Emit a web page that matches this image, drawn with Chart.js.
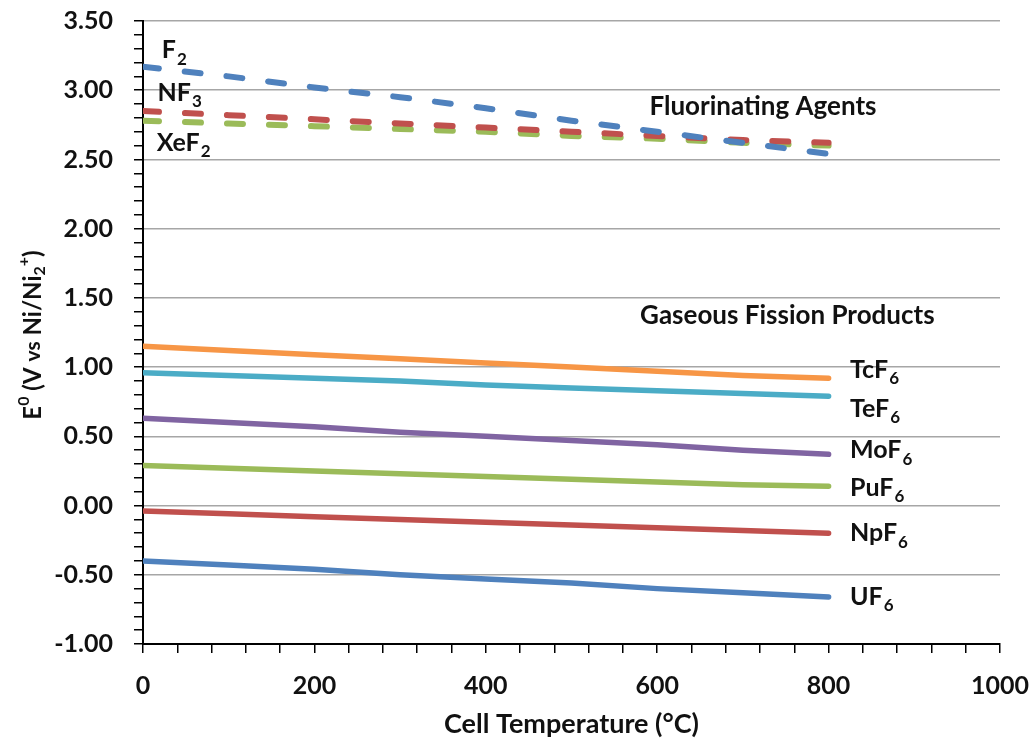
<!DOCTYPE html>
<html>
<head>
<meta charset="utf-8">
<script src="https://cdn.jsdelivr.net/npm/chart.js@4"></script>
<style>
  html, body { margin: 0; padding: 0; background: #fff; }
  #wrap { width: 1033px; height: 744px; }
</style>
</head>
<body>
<div id="wrap"><canvas id="chart" width="1033" height="744"></canvas></div>
<script>
// temperatures (°C)
const temps = [0, 100, 200, 300, 400, 500, 600, 700, 800];

// fluorinating agents (dashed)
const f2   = [3.17, 3.10, 3.02, 2.95, 2.87, 2.78, 2.70, 2.62, 2.54];
const nf3  = [2.85, 2.82, 2.79, 2.76, 2.73, 2.70, 2.67, 2.64, 2.62];
const xef2 = [2.78, 2.76, 2.74, 2.72, 2.70, 2.67, 2.65, 2.62, 2.60];

// gaseous fission products (solid)
const tcf6 = [1.15, 1.12, 1.09, 1.06, 1.03, 1.00, 0.97, 0.94, 0.92];
const tef6 = [0.96, 0.94, 0.92, 0.90, 0.87, 0.85, 0.83, 0.81, 0.79];
const mof6 = [0.63, 0.60, 0.57, 0.53, 0.50, 0.47, 0.44, 0.40, 0.37];
const puf6 = [0.29, 0.27, 0.25, 0.23, 0.21, 0.19, 0.17, 0.15, 0.14];
const npf6 = [-0.04, -0.06, -0.08, -0.10, -0.12, -0.14, -0.16, -0.18, -0.20];
const uf6  = [-0.40, -0.43, -0.46, -0.50, -0.53, -0.56, -0.60, -0.63, -0.66];

// text labels in data units: [x, y, text, subscript]
const labels = [
    [22, 3.29, "F", "2"],
    [17, 2.98, "NF", "3"],
    [16, 2.62, "XeF", "2"],
    [591, 2.88, "Fluorinating Agents", ""],
    [580, 1.37, "Gaseous Fission Products", ""],
    [825, 0.98, "TcF", "6"],
    [825, 0.70, "TeF", "6"],
    [825, 0.40, "MoF", "6"],
    [825, 0.13, "PuF", "6"],
    [825, -0.20, "NpF", "6"],
    [825, -0.66, "UF", "6"]
];

function pts(ys) {
    return temps.map((t, i) => ({ x: t, y: ys[i] }));
}

function dashed(ys, color) {
    return { data: pts(ys), borderColor: color, borderWidth: 6, borderDash: [16, 26], borderCapStyle: "round", pointRadius: 0, fill: false };
}
function solid(ys, color) {
    return { data: pts(ys), borderColor: color, borderWidth: 5.5, borderCapStyle: "round", pointRadius: 0, fill: false };
}

const isMajor = (v, step) => Math.abs(v / step - Math.round(v / step)) < 1e-6;

const textPlugin = {
    id: "textLabels",
    afterDatasetsDraw(chart) {
        const ctx = chart.ctx;
        const xs = chart.scales.x, ys = chart.scales.y;
        ctx.save();
        ctx.fillStyle = "#111";
        ctx.textBaseline = "middle";
        ctx.textAlign = "left";
        labels.forEach(l => {
            let px = xs.getPixelForValue(l[0]);
            let py = ys.getPixelForValue(l[1]);
            let big = l[3] ? 25 : 26;
            ctx.font = "bold " + big + "px Lato";
            ctx.fillText(l[2], px, py);
            if (l[3]) {
                let w = ctx.measureText(l[2]).width;
                ctx.font = "bold 17px Lato";
                ctx.fillText(l[3], px + w + 1, py + 9);
            }
        });

        // rotated y axis title with super/subscripts
        const parts = [
            ["E", 24, 0], ["0", 16, -9], [" (V ", 24, 0], ["vs", 21, 0], [" Ni/Ni", 24, 0], ["2", 16, 7], ["+", 16, -9], [")", 24, 0]
        ];
        let total = 0;
        parts.forEach(p => { ctx.font = "bold " + p[1] + "px Lato"; total += ctx.measureText(p[0]).width; });
        ctx.translate(33, 335);
        ctx.rotate(-Math.PI / 2);
        let x = -total / 2;
        parts.forEach(p => {
            ctx.font = "bold " + p[1] + "px Lato";
            ctx.fillText(p[0], x, p[2]);
            x += ctx.measureText(p[0]).width;
        });
        ctx.restore();
    }
};

new Chart("chart", {
    type: "line",
    data: {
        datasets: [
            dashed(f2, "#4F81BD"),
            dashed(nf3, "#C0504D"),
            dashed(xef2, "#9BBB59"),
            solid(tcf6, "#F79646"),
            solid(tef6, "#4BACC6"),
            solid(mof6, "#8064A2"),
            solid(puf6, "#9BBB59"),
            solid(npf6, "#C0504D"),
            solid(uf6, "#4F81BD")
        ]
    },
    options: {
        responsive: false,
        animation: false,
        layout: { padding: { top: 21, right: 33, left: 0, bottom: 0 } },
        plugins: { legend: { display: false }, tooltip: { enabled: false } },
        scales: {
            x: {
                type: "linear",
                min: 0, max: 1000,
                afterFit: s => { s.height = 100; s.paddingLeft = 0; s.paddingRight = 0; },
                border: { color: "#000", width: 2 },
                grid: { drawOnChartArea: false, color: "#000", tickLength: 9, lineWidth: 1.5 },
                ticks: {
                    stepSize: 40, autoSkip: false, maxRotation: 0, padding: 18,
                    color: "#111", font: { family: "Lato", size: 25, weight: "bold" },
                    callback: v => isMajor(v, 200) ? String(v) : ""
                },
                title: { display: true, text: "Cell Temperature (°C)", color: "#111", padding: { top: 0, bottom: 4 }, font: { family: "Lato", size: 27, weight: "bold" } }
            },
            y: {
                type: "linear",
                min: -1, max: 3.5,
                afterFit: s => { s.width = 143; s.paddingTop = 0; s.paddingBottom = 0; },
                border: { color: "#000", width: 2 },
                grid: {
                    color: c => (c.tick && isMajor(c.tick.value, 0.5)) ? "#a6a6a6" : "rgba(0,0,0,0)",
                    tickColor: "#000", tickLength: 9, lineWidth: 1.5
                },
                ticks: {
                    stepSize: 0.1, autoSkip: false, padding: 21,
                    color: "#111", font: { family: "Lato", size: 25, weight: "bold" },
                    callback: v => isMajor(v, 0.5) ? v.toFixed(2) : ""
                }
            }
        }
    },
    plugins: [textPlugin]
});
</script>
</body>
</html>
